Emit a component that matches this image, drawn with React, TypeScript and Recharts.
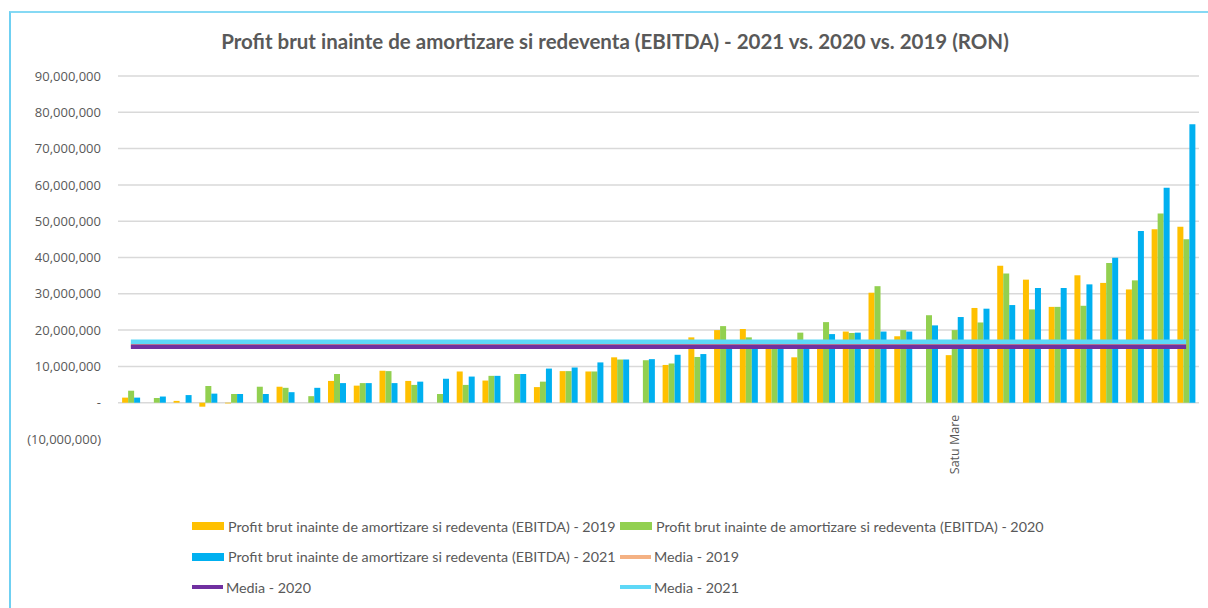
import { ComposedChart, Bar, Line, XAxis, YAxis, CartesianGrid, Legend } from "recharts"

// values in millions RON, one entry per entity (sorted by 2021)
const CATEGORIES = [
  "", "", "", "", "", "", "", "", "", "", "", "", "", "", "",
  "", "", "", "", "", "", "", "", "", "", "", "", "", "", "",
  "", "", "Satu Mare", "", "", "", "", "", "", "", "", "",
]

const EBITDA_2019 = [
  1.4, 0, 0.5, -1.1, -0.2, 0, 4.4, 0, 6.0, 4.7, 8.8, 6.0, 0, 8.6, 6.1,
  0, 4.3, 8.7, 8.6, 12.5, 0, 10.4, 18.0, 20.0, 20.3, 16.0, 12.5, 16.5, 19.6, 30.3,
  18.3, 0, 13.1, 26.1, 37.7, 33.9, 26.4, 35.1, 33.0, 31.2, 47.8, 48.5,
]

const EBITDA_2020 = [
  3.3, 1.3, 0, 4.6, 2.4, 4.4, 4.1, 1.8, 7.9, 5.4, 8.7, 4.9, 2.4, 4.9, 7.4,
  7.9, 5.8, 8.7, 8.6, 11.9, 11.7, 10.8, 12.6, 21.1, 18.0, 16.0, 19.3, 22.2, 19.2, 32.1,
  20.0, 24.1, 20.0, 22.1, 35.6, 25.7, 26.4, 26.7, 38.5, 33.7, 52.1, 45.0,
]

const EBITDA_2021 = [
  1.4, 1.7, 2.1, 2.5, 2.4, 2.4, 2.9, 4.1, 5.4, 5.4, 5.4, 5.8, 6.6, 7.2, 7.4,
  7.9, 9.4, 9.7, 11.1, 11.9, 12.0, 13.2, 13.4, 16.0, 16.2, 16.4, 16.6, 18.9, 19.3, 19.6,
  19.6, 21.3, 23.6, 25.9, 26.9, 31.6, 31.6, 32.6, 39.9, 47.3, 59.2, 76.7,
]

const MEDIA_2019 = 15.9
const MEDIA_2020 = 15.4
const MEDIA_2021 = 16.8

const Y_TICKS = [-10, 0, 10, 20, 30, 40, 50, 60, 70, 80, 90]
const GRID_VALUES = [0, 10, 20, 30, 40, 50, 60, 70, 80, 90]

// legend reading order (row by row, two columns)
const LEGEND_ORDER = ["e2019", "e2020", "e2021", "m2019", "m2020", "m2021"]

const data = CATEGORIES.map((name, i) => ({
  name,
  e2019: EBITDA_2019[i],
  e2020: EBITDA_2020[i],
  e2021: EBITDA_2021[i],
  m2019: MEDIA_2019,
  m2020: MEDIA_2020,
  m2021: MEDIA_2021,
}))

const WIDTH = 1208
const HEIGHT = 608
const PLOT_TOP = 76
const PLOT_BOTTOM = 439
const Y_MIN = -10
const Y_MAX = 90
const ZERO_Y = PLOT_TOP + (Y_MAX / (Y_MAX - Y_MIN)) * (PLOT_BOTTOM - PLOT_TOP)

const TEXT = "#595959"

function formatRon(v: number) {
  if (v === 0) return "-"
  const s = Math.abs(v * 1000000).toLocaleString("en-US")
  return v < 0 ? `(${s})` : s
}

function CategoryTick({ x, payload }: any) {
  if (!payload || !payload.value) return <g />
  return (
    <text
      x={0}
      y={0}
      transform={`translate(${x},${ZERO_Y + 12}) rotate(-90)`}
      textAnchor="end"
      dy="0.35em"
      fill={TEXT}
      fontSize={12.5}
      fontFamily="'Open Sans', sans-serif"
    >
      {payload.value}
    </text>
  )
}

function LegendContent({ payload }: any) {
  const items = [...(payload || [])].sort(
    (a: any, b: any) => LEGEND_ORDER.indexOf(a.dataKey) - LEGEND_ORDER.indexOf(b.dataKey),
  )
  return (
    <div
      style={{
        display: "grid",
        gridTemplateColumns: "428px 500px",
        gridAutoRows: "30.5px",
        paddingLeft: 192,
        height: 92,
        fontFamily: "Lato, sans-serif",
        fontSize: 14.3,
        color: TEXT,
      }}
    >
      {items.map((item: any) => (
        <div key={item.value} style={{ display: "flex", alignItems: "center" }}>
          {item.type === "line" ? (
            <span style={{ width: 31, height: 4, background: item.color, marginRight: 3 }} />
          ) : (
            <span style={{ width: 32, height: 8, background: item.color, marginRight: 4 }} />
          )}
          <span style={{ whiteSpace: "nowrap" }}>{item.value}</span>
        </div>
      ))}
    </div>
  )
}

export default function App() {
  return (
    <div style={{ position: "fixed", left: 0, top: 0, width: WIDTH, height: HEIGHT, background: "#fff", overflow: "hidden" }}>
      <div
        style={{
          position: "absolute",
          left: 9,
          top: 11,
          width: 1220,
          height: 640,
          borderLeft: "2px solid #6fd0f2",
          borderTop: "2px solid #86d9f4",
        }}
      />
      <div
        style={{
          position: "absolute",
          left: 22,
          width: 1186,
          top: 29,
          textAlign: "center",
          fontFamily: "Lato, sans-serif",
          fontWeight: 700,
          fontSize: 20.5,
          color: TEXT,
        }}
      >
        Profit brut inainte de amortizare si redeventa (EBITDA) - 2021 vs. 2020 vs. 2019 (RON)
      </div>
      <div style={{ position: "absolute", left: 0, top: 0 }}>
        <ComposedChart
          width={WIDTH}
          height={HEIGHT}
          data={data}
          margin={{ top: PLOT_TOP, right: 9, bottom: 47, left: 8 }}
          barCategoryGap="16%"
          barGap={0}
        >
          <CartesianGrid vertical={false} horizontalValues={GRID_VALUES} stroke="#d9d9d9" strokeWidth={1.5} />
          <XAxis
            dataKey="name"
            interval={0}
            axisLine={false}
            tickLine={false}
            height={30}
            tick={<CategoryTick />}
          />
          <YAxis
            width={110}
            domain={[Y_MIN, Y_MAX]}
            ticks={Y_TICKS}
            axisLine={false}
            tickLine={false}
            tickSize={0}
            tickMargin={17}
            tickFormatter={formatRon}
            tick={{ fill: TEXT, fontSize: 13, fontFamily: "'Open Sans', sans-serif" }}
          />
          <Legend
            verticalAlign="bottom"
            wrapperStyle={{ top: 511, left: 0, width: WIDTH }}
            content={<LegendContent />}
          />
          <Bar dataKey="e2019" name="Profit brut inainte de amortizare si redeventa (EBITDA) - 2019" fill="#FFC000" isAnimationActive={false} />
          <Bar dataKey="e2020" name="Profit brut inainte de amortizare si redeventa (EBITDA) - 2020" fill="#92D050" isAnimationActive={false} />
          <Bar dataKey="e2021" name="Profit brut inainte de amortizare si redeventa (EBITDA) - 2021" fill="#00B0F0" isAnimationActive={false} />
          <Line dataKey="m2019" name="Media - 2019" type="linear" stroke="#F4B183" strokeWidth={4.5} dot={false} activeDot={false} legendType="line" isAnimationActive={false} />
          <Line dataKey="m2020" name="Media - 2020" type="linear" stroke="#7030A0" strokeWidth={4.5} dot={false} activeDot={false} legendType="line" isAnimationActive={false} />
          <Line dataKey="m2021" name="Media - 2021" type="linear" stroke="#5ED8F7" strokeWidth={4.5} dot={false} activeDot={false} legendType="line" isAnimationActive={false} />
        </ComposedChart>
      </div>
    </div>
  )
}
